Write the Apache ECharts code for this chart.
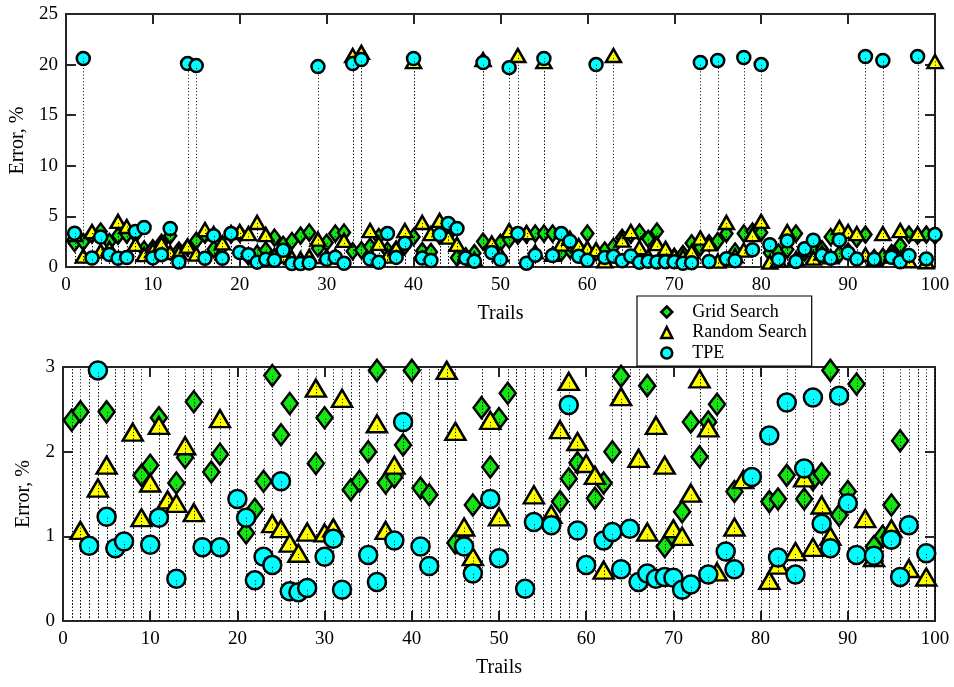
<!DOCTYPE html>
<html>
<head>
<meta charset="utf-8">
<script src="https://cdn.jsdelivr.net/npm/echarts@6/dist/echarts.min.js"></script>
<style>html,body{margin:0;padding:0;background:#fff}#c{width:954px;height:687px}</style>
</head>
<body>
<div id="c"></div>
<script>
const trials = Array.from({length: 100}, (_, k) => k + 1);
const seriesNames = ['Grid Search', 'Random Search', 'TPE'];
const gridSearch = [
  2.37,2.47,3.2,3.5,2.47,3.1,3.2,3.2,1.72,1.84,
  2.40,3.1,1.63,1.93,2.59,3.2,1.76,1.97,3.2,3.3,
  1.04,1.32,1.65,2.90,2.20,2.57,3.1,3.4,1.86,2.40,
  3.3,3.4,1.55,1.65,2.00,2.96,1.63,1.70,2.08,2.96,
  1.57,1.49,3.1,3.2,0.92,1.05,1.37,2.52,1.82,2.39,
  2.69,3.1,3.2,3.3,3.3,3.3,1.41,1.68,1.87,3.3,
  1.45,1.63,2.00,2.89,3.2,3.4,2.78,3.5,0.88,1.00,
  1.29,2.35,1.94,2.35,2.56,3.3,1.53,3.3,3.5,3.4,
  1.41,1.44,1.72,3.3,1.44,1.67,1.74,2.96,1.25,1.53,
  2.80,3.2,0.88,1.00,1.37,2.13,3.2,3.1,3.2,3.1
];
const randomSearch = [
  3.2,1.07,3.5,1.57,1.84,4.5,4.0,2.23,1.22,1.63,
  2.31,1.43,1.39,2.07,1.28,3.7,3.3,2.39,3.4,3.5,
  3.3,4.4,3.2,1.15,1.09,0.92,0.80,1.05,2.75,1.04,
  1.10,2.63,20.9,21.2,3.6,2.33,1.07,1.84,3.6,20.3,
  4.4,3.3,4.6,2.96,2.24,1.11,0.76,20.5,2.37,1.23,
  3.6,20.9,3.4,1.49,20.3,1.26,2.26,2.83,2.12,1.86,
  1.72,0.60,20.9,2.65,3.5,1.92,1.05,2.31,1.84,1.09,
  1.00,1.51,2.86,2.28,0.58,4.4,1.11,1.67,3.2,4.5,
  0.48,0.66,3.5,0.82,1.69,0.87,1.37,1.00,3.9,3.5,
  3.3,1.21,0.75,3.3,1.09,3.6,0.62,3.3,0.52,20.3
];
const tpe = [
  3.33,20.6,0.89,2.96,1.23,0.86,0.94,3.5,3.9,0.90,
  1.22,3.8,0.50,20.1,19.9,0.87,3.1,0.87,3.3,1.44,
  1.22,0.48,0.76,0.66,1.65,0.35,0.34,0.39,19.8,0.76,
  0.97,0.37,20.1,20.5,0.78,0.46,3.3,0.95,2.35,20.6,
  0.88,0.65,3.2,4.3,3.8,0.88,0.56,20.2,1.44,0.74,
  19.7,3.3,0.38,1.17,20.6,1.13,3.3,2.55,1.07,0.66,
  20.0,0.95,1.05,0.61,1.09,0.46,0.56,0.50,0.52,0.51,
  0.37,0.43,20.2,0.55,20.4,0.82,0.61,20.7,1.70,20.0,
  2.19,0.75,2.58,0.55,1.80,2.64,1.15,0.86,2.66,1.39,
  0.78,20.8,0.77,20.4,0.96,0.52,1.13,20.8,0.80,3.2
];
const values = [gridSearch, randomSearch, tpe];

const FONT = 'Liberation Serif';
const AX = '#262626';
const colors = ['#14e614', '#ffff00', '#00ffff'];
const symbols = ['diamond', 'triangle', 'circle'];
const symTop = [[12, 16], [15, 13], 13];
const symBot = [[16, 21], [20, 17], 18];

function stem(ymax) {
  return function (params, api) {
    const x = api.value(0);
    const y = Math.min(api.value(1), ymax);
    const a = api.coord([x, 0]);
    const b = api.coord([x, y]);
    const px = Math.round(a[0]) + 0.5;
    return {
      type: 'line',
      shape: {x1: px, y1: a[1], x2: px, y2: b[1]},
      style: {stroke: '#000', lineWidth: 1, lineDash: [1, 2.3]}
    };
  };
}

function xAx(gi, pos, labels) {
  return {
    type: 'value', gridIndex: gi, position: pos, min: 0, max: 100, interval: 10,
    axisLine: {show: true, onZero: false, lineStyle: {color: AX, width: 2}},
    axisTick: {show: true, inside: true, length: 10, lineStyle: {color: AX, width: 2}},
    axisLabel: {show: labels, color: '#000', fontFamily: FONT, fontSize: 19, margin: 9},
    splitLine: {show: false},
    name: labels ? 'Trails' : '', nameLocation: 'middle', nameGap: 37,
    nameTextStyle: {color: '#000', fontFamily: FONT, fontSize: 20}
  };
}
function yAx(gi, pos, max, interval, labels) {
  return {
    type: 'value', gridIndex: gi, position: pos, min: 0, max: max, interval: interval,
    axisLine: {show: true, onZero: false, lineStyle: {color: AX, width: 2}},
    axisTick: {show: true, inside: true, length: 10, lineStyle: {color: AX, width: 2}},
    axisLabel: {show: labels, color: '#000', fontFamily: FONT, fontSize: 19, margin: 8},
    splitLine: {show: false},
    name: labels ? 'Error, %' : '', nameLocation: 'middle', nameGap: 29,
    nameTextStyle: {color: '#000', fontFamily: FONT, fontSize: 20}
  };
}

const series = [];
[[0, 25, symTop], [1, 3, symBot]].forEach(([g, ymax, syms]) => {
  values.forEach((vals, s) => {
    const data = trials.map((t, k) => [t, vals[k]]);
    series.push({
      type: 'scatter', name: seriesNames[s], xAxisIndex: g * 2, yAxisIndex: g * 2,
      data: data, symbol: symbols[s], symbolSize: syms[s], z: 2 + s * 2,
      itemStyle: {color: colors[s], borderColor: '#000', borderWidth: 2.5, opacity: 1},
      clip: true
    });
    series.push({
      type: 'custom', name: 'stem' + s, xAxisIndex: g * 2, yAxisIndex: g * 2,
      data: data, encode: {x: 0, y: 1}, renderItem: stem(ymax), z: 3 + s * 2, silent: true
    });
  });
});

const chart = echarts.init(document.getElementById('c'), null, {renderer: 'canvas'});
chart.setOption({
  animation: false,
  backgroundColor: '#fff',
  grid: [
    {left: 63, top: 14, width: 872, height: 253},
    {left: 63, top: 367, width: 872, height: 254}
  ],
  xAxis: [xAx(0, 'bottom', true), xAx(0, 'top', false), xAx(1, 'bottom', true), xAx(1, 'top', false)],
  yAxis: [yAx(0, 'left', 25, 5, true), yAx(0, 'right', 25, 5, false), yAx(1, 'left', 3, 1, true), yAx(1, 'right', 3, 1, false)],
  legend: {
    data: seriesNames, orient: 'vertical', left: 637, top: 296,
    padding: [7, 5, 4, 23], itemWidth: 11, itemHeight: 11, itemGap: 2.5,
    backgroundColor: '#fff', borderColor: '#000', borderWidth: 1.2,
    textStyle: {fontFamily: FONT, fontSize: 18, color: '#000', lineHeight: 18, padding: [0, 0, 0, 15]},
    itemStyle: {borderWidth: 2.5},
    z: 20
  },
  series: series
});
</script>
</body>
</html>
